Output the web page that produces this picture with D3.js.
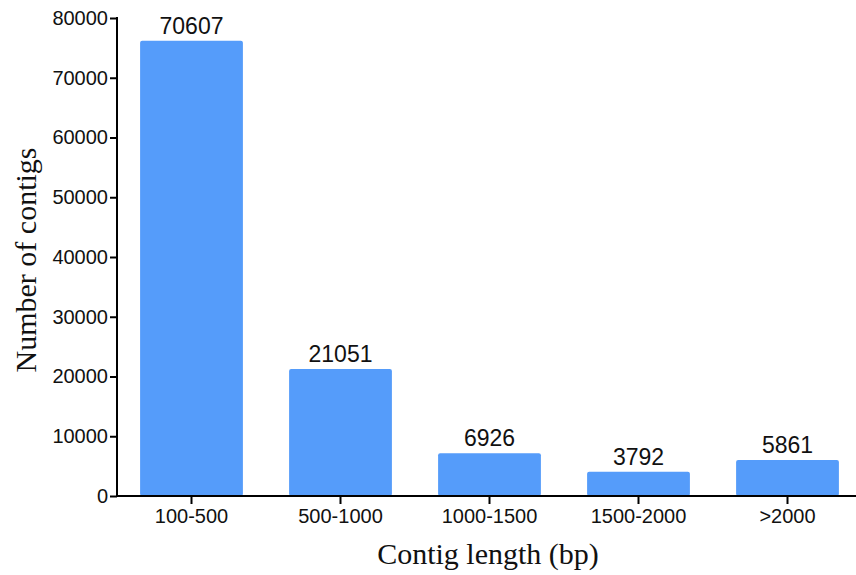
<!DOCTYPE html>
<html><head><meta charset="utf-8">
<script src="https://cdn.jsdelivr.net/npm/d3@7"></script>
<style>html,body{margin:0;padding:0;background:#fff;}</style>
</head><body>
<svg id="c" width="856" height="575"></svg>
<script>
const categories = ["100-500", "500-1000", "1000-1500", "1500-2000", ">2000"];
const barValues = [76200, 21250, 7150, 4070, 6030];
const barLabels = ["70607", "21051", "6926", "3792", "5861"];
const yTicks = [0, 10000, 20000, 30000, 40000, 50000, 60000, 70000, 80000];

const svg = d3.select("#c");
const x0 = 117, x1 = 862, yBottom = 496, yTop = 18;

const x = d3.scaleBand().domain(categories).range([x0, x1]).paddingInner(0.31).paddingOuter(0.155);
const y = d3.scaleLinear().domain([0, 80000]).range([yBottom, yTop]);

svg.selectAll("rect.bar").data(categories).join("rect")
  .attr("class", "bar")
  .attr("x", d => x(d))
  .attr("width", x.bandwidth())
  .attr("y", (d, i) => y(barValues[i]))
  .attr("height", (d, i) => yBottom - y(barValues[i]))
  .attr("rx", 2)
  .attr("fill", "#559CFA");

svg.selectAll("text.lbl").data(categories).join("text")
  .attr("class", "lbl")
  .attr("x", d => x(d) + x.bandwidth() / 2)
  .attr("y", (d, i) => y(barValues[i]) - 7)
  .attr("text-anchor", "middle")
  .attr("font-family", "Liberation Sans, Arial, sans-serif")
  .attr("font-size", 23)
  .attr("fill", "#111")
  .text((d, i) => barLabels[i]);

// Y axis
const yAxis = svg.append("g").attr("transform", `translate(${x0},0)`)
  .call(d3.axisLeft(y).tickValues(yTicks).tickSize(7).tickPadding(2).tickFormat(d3.format("d")));
yAxis.select(".domain").attr("stroke", "#000").attr("stroke-width", 2).attr("d", `M0,${yTop - 1}V${yBottom}`);
yAxis.selectAll(".tick line").attr("stroke", "#000").attr("stroke-width", 2);
yAxis.selectAll(".tick text").attr("font-family", "Liberation Sans, Arial, sans-serif").attr("font-size", 20).attr("fill", "#111");

// X axis
const xAxis = svg.append("g").attr("transform", `translate(0,${yBottom})`)
  .call(d3.axisBottom(x).tickSize(8).tickPadding(5));
xAxis.select(".domain").attr("stroke", "#000").attr("stroke-width", 2).attr("d", `M${x0 - 1},0H856`);
xAxis.selectAll(".tick line").attr("stroke", "#000").attr("stroke-width", 2);
xAxis.selectAll(".tick text").attr("font-family", "Liberation Sans, Arial, sans-serif").attr("font-size", 20).attr("fill", "#111");

// Titles
svg.append("text")
  .attr("x", 488).attr("y", 564)
  .attr("text-anchor", "middle")
  .attr("font-family", "Liberation Serif, Times New Roman, serif")
  .attr("font-size", 30).attr("fill", "#111")
  .text("Contig length (bp)");

svg.append("text")
  .attr("transform", "translate(36,260) rotate(-90)")
  .attr("text-anchor", "middle")
  .attr("font-family", "Liberation Serif, Times New Roman, serif")
  .attr("font-size", 30).attr("fill", "#111")
  .text("Number of contigs");
</script>
</body></html>
